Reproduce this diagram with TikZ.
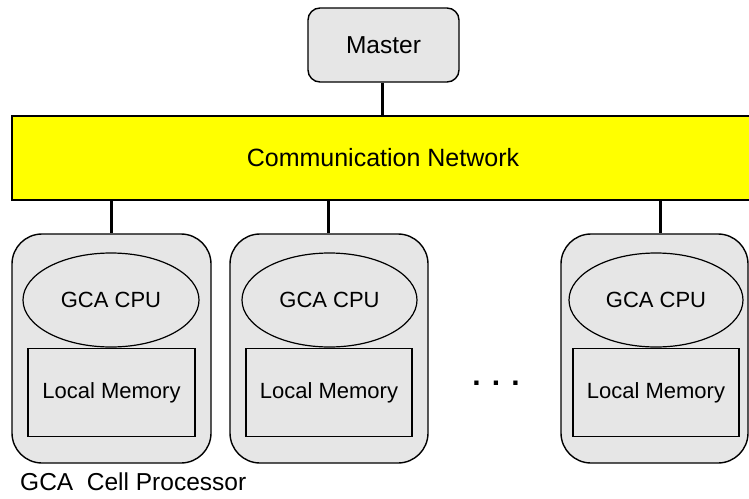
\documentclass[tikz,border=0pt]{standalone}
\usepackage{fontspec}
\setmainfont{Liberation Sans}
\usetikzlibrary{shapes.geometric,calc}
\definecolor{boxgray}{HTML}{E6E6E6}
\definecolor{netyellow}{HTML}{FFFF00}
\tikzset{
  masterbox/.style={draw, line width=1.4pt, fill=boxgray, rounded corners=12pt, minimum width=151pt, minimum height=74pt, inner sep=0pt, font=\fontsize{24.5}{26}\selectfont},
  netbox/.style={draw, line width=1.4pt, fill=netyellow, minimum width=740pt, minimum height=84pt, inner sep=0pt},
  cellbox/.style={draw, line width=1.4pt, fill=boxgray, rounded corners=30pt, minimum height=229pt, inner sep=0pt},
  cpu/.style={draw, ellipse, line width=1.2pt, fill=boxgray, minimum height=94pt, inner sep=0pt, font=\fontsize{22}{24}\selectfont},
  mem/.style={draw, rectangle, line width=1.2pt, fill=boxgray, minimum height=88pt, inner sep=0pt, font=\fontsize{22}{24}\selectfont},
  link/.style={line width=3pt},
  lbl/.style={inner sep=0pt, font=\fontsize{24.5}{26}\selectfont}
}
\begin{document}
\begin{tikzpicture}[x=1pt,y=-1pt]
\useasboundingbox (0,0) rectangle (749,498);
\fill[white] (0,0) rectangle (749,498);
% master and network
\node[masterbox] (m) at (383.5,45) {Master};
\node[netbox] (net) at (382,158) {};
\node[lbl, font=\fontsize{25}{27}\selectfont] (nettext) at (383,158) {Communication Network};
% cells
\node[cellbox, minimum width=199pt] (c1) at (111.5,348.5) {};
\node[cellbox, minimum width=198pt] (c2) at (329,348.5) {};
\node[cellbox, minimum width=187pt] (c3) at (654.5,348.5) {};
% CPUs
\node[cpu, minimum width=176pt] (e1) at (111,300) {GCA CPU};
\node[cpu, minimum width=175pt] (e2) at (329.5,300) {GCA CPU};
\node[cpu, minimum width=174pt] (e3) at (656,300) {GCA CPU};
% memories
\node[mem, minimum width=167pt] (r1) at (111.5,392.5) {Local Memory};
\node[mem, minimum width=166pt] (r2) at (329,392.5) {Local Memory};
\node[mem, minimum width=166pt] (r3) at (656,392.5) {Local Memory};
% connectors
\coordinate (p1) at (111,0);
\coordinate (p2) at (328,0);
\coordinate (p3) at (660,0);
\coordinate (pm) at (382,0);
\draw[link] (m.south -| pm) -- (net.north -| pm);
\draw[link] (net.south -| p1) -- (c1.north -| p1);
\draw[link] (net.south -| p2) -- (c2.north -| p2);
\draw[link] (net.south -| p3) -- (c3.north -| p3);
% dots
\node[lbl, anchor=base, font=\fontsize{30}{30}\selectfont\bfseries] (dots) at (496,385) {. . .};
% label
\node[lbl, anchor=base west] (cap) at (20,490) {GCA\ \ Cell Processor};
\end{tikzpicture}
\end{document}
